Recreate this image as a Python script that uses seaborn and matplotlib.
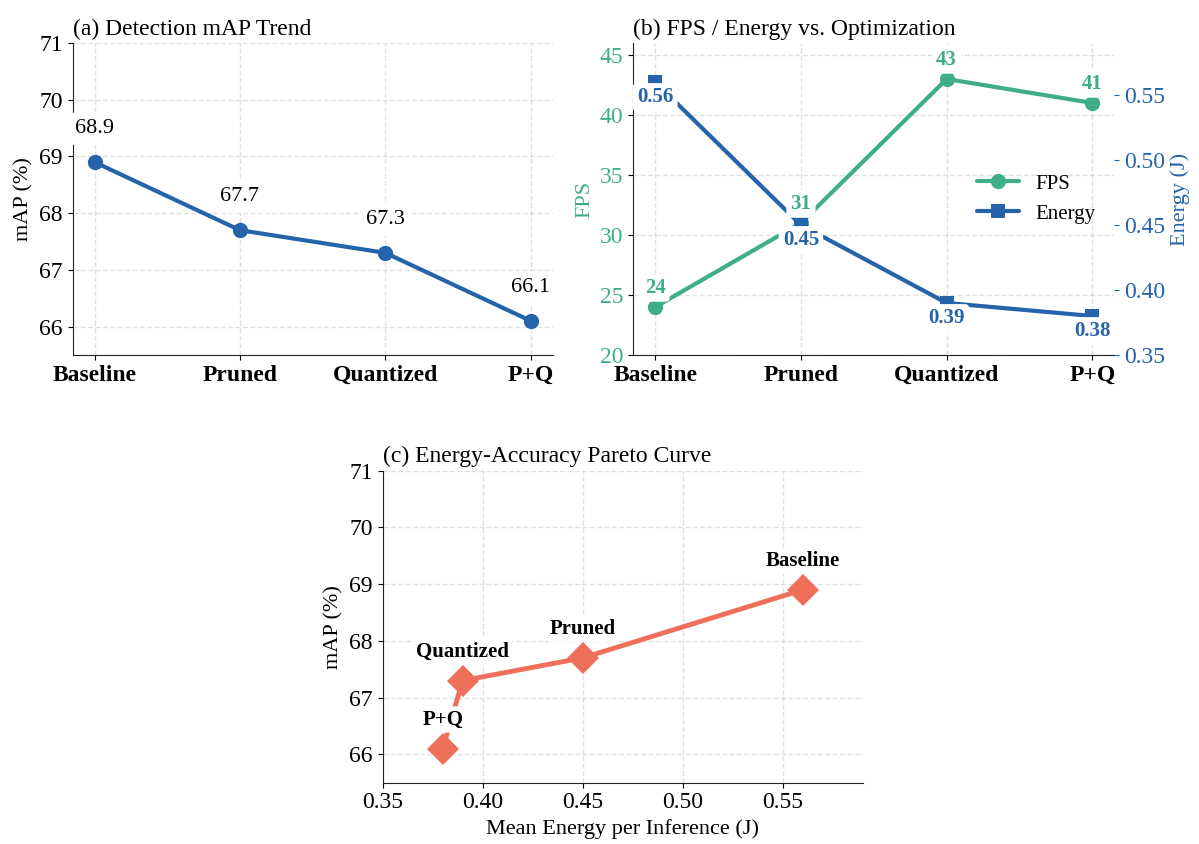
import numpy as np
import pandas as pd
import matplotlib
matplotlib.use('Agg')
import matplotlib.pyplot as plt
import seaborn as sns

# data
stages = ['Baseline', 'Pruned', 'Quantized', 'P+Q']
map_vals = [68.9, 67.7, 67.3, 66.1]
fps_vals = [24, 31, 43, 41]
energy_vals = [0.56, 0.45, 0.39, 0.38]

blue = '#2563ab'
green = '#3fae88'
orange = '#ef705a'

sns.set_style('ticks')
plt.rcParams['font.family'] = ['Liberation Serif', 'DejaVu Serif']
plt.rcParams['text.color'] = 'black'
plt.rcParams['axes.labelcolor'] = 'black'
plt.rcParams['xtick.color'] = 'black'
plt.rcParams['ytick.color'] = 'black'
plt.rcParams['axes.edgecolor'] = '#222222'

df = pd.DataFrame({'stage': stages, 'map': map_vals,
                   'fps': fps_vals, 'energy': energy_vals})
df['pos'] = range(len(stages))

W, H = 1199, 844
fig = plt.figure(figsize=(W / 100, H / 100), dpi=100)


def px_axes(left, top, width, height):
    return fig.add_axes([left / W, 1 - (top + height) / H, width / W, height / H])


ax_a = px_axes(72.7, 43, 480, 312)
ax_b = px_axes(633.3, 43, 481, 312)
ax_c = px_axes(382.7, 470.7, 480, 312)

grid_kw = dict(ls='--', lw=1, color='#cccccc', alpha=0.6)

# ---- (a) detection mAP trend
sns.lineplot(data=df, x='pos', y='map', marker='o', markersize=11,
             color=blue, lw=3, markeredgewidth=0, sort=False, ax=ax_a)
for i, v in enumerate(map_vals):
    ax_a.annotate(f'{v:.1f}', (i, v), xytext=(0, 24), textcoords='offset points',
                  ha='center', va='center', fontsize=16,
                  bbox=dict(boxstyle='round,pad=0.3', fc='white', ec='none'))
ax_a.set_xticks(range(len(stages)))
ax_a.set_xticklabels(stages, fontweight='bold', fontsize=17)
ax_a.set_xlim(-0.15, 3.15)
ax_a.set_ylim(65.5, 71)
ax_a.set_yticks([66, 67, 68, 69, 70, 71])
ax_a.tick_params(axis='y', labelsize=17)
ax_a.set_xlabel('')
ax_a.set_ylabel('mAP (%)', fontsize=16)
ax_a.set_title('(a) Detection mAP Trend', loc='left', fontsize=17)
ax_a.grid(True, **grid_kw)
sns.despine(ax=ax_a)

# ---- (b) FPS / energy
ax_b2 = ax_b.twinx()
sns.lineplot(data=df, x='pos', y='fps', marker='o', markersize=11,
             color=green, lw=3, markeredgewidth=0, sort=False, ax=ax_b,
             label='FPS', legend=False)
sns.lineplot(data=df, x='pos', y='energy', marker='s', markersize=10,
             color=blue, lw=3, markeredgewidth=0, sort=False, ax=ax_b2,
             label='Energy', legend=False)
for i, v in enumerate(fps_vals):
    ax_b2.annotate(f'{v:.0f}', (i, v), xycoords=ax_b.transData,
                   xytext=(0, 14), textcoords='offset points',
                   ha='center', va='center', fontsize=15, fontweight='bold',
                   color=green,
                   bbox=dict(boxstyle='round,pad=0.2', fc='white', ec='none'))
for i, v in enumerate(energy_vals):
    ax_b2.annotate(f'{v:.2f}', (i, v), xytext=(0, -11), textcoords='offset points',
                   ha='center', va='center', fontsize=15, fontweight='bold',
                   color=blue,
                   bbox=dict(boxstyle='round,pad=0.2', fc='white', ec='none'))
ax_b.set_xticks(range(len(stages)))
ax_b.set_xticklabels(stages, fontweight='bold', fontsize=17)
ax_b.set_xlim(-0.15, 3.15)
ax_b.set_ylim(20, 46)
ax_b.set_yticks([20, 25, 30, 35, 40, 45])
ax_b.tick_params(axis='y', labelsize=17, labelcolor=green)
ax_b.set_xlabel('')
ax_b.set_ylabel('FPS', fontsize=16, color=green)
ax_b2.set_ylim(0.35, 0.59)
ax_b2.set_yticks([0.35, 0.40, 0.45, 0.50, 0.55])
ax_b2.set_yticklabels([f'{t:.2f}' for t in [0.35, 0.40, 0.45, 0.50, 0.55]])
ax_b2.tick_params(axis='y', labelsize=17, colors=blue)
ax_b2.set_ylabel('Energy (J)', fontsize=16, color=blue)
ax_b.set_title('(b) FPS / Energy vs. Optimization', loc='left', fontsize=17)
ax_b.grid(True, **grid_kw)
for s in ['top', 'right']:
    ax_b.spines[s].set_visible(False)
for s in ['top', 'right', 'left', 'bottom']:
    ax_b2.spines[s].set_visible(False)
h1, l1 = ax_b.get_legend_handles_labels()
h2, l2 = ax_b2.get_legend_handles_labels()
ax_b2.legend(h1 + h2, l1 + l2, loc='center right', bbox_to_anchor=(1.0, 0.5),
             frameon=False, fontsize=15)

# ---- (c) pareto curve
sns.lineplot(data=df, x='energy', y='map', marker='D', markersize=16,
             color=orange, lw=3.5, markeredgewidth=0, ax=ax_c)
for i, name in enumerate(stages):
    ax_c.annotate(name, (energy_vals[i], map_vals[i]), xytext=(0, 21),
                  textcoords='offset points', ha='center', va='center',
                  fontsize=15, fontweight='bold',
                  bbox=dict(boxstyle='round,pad=0.15', fc='white', ec='none'))
ax_c.set_xlim(0.35, 0.59)
ax_c.set_xticks([0.35, 0.40, 0.45, 0.50, 0.55])
ax_c.set_xticklabels([f'{t:.2f}' for t in [0.35, 0.40, 0.45, 0.50, 0.55]])
ax_c.set_ylim(65.5, 71)
ax_c.set_yticks([66, 67, 68, 69, 70, 71])
ax_c.tick_params(labelsize=17)
ax_c.set_xlabel('Mean Energy per Inference (J)', fontsize=16)
ax_c.set_ylabel('mAP (%)', fontsize=16)
ax_c.set_title('(c) Energy-Accuracy Pareto Curve', loc='left', fontsize=17)
ax_c.grid(True, **grid_kw)
sns.despine(ax=ax_c)

fig.savefig('out.png', dpi=100)
